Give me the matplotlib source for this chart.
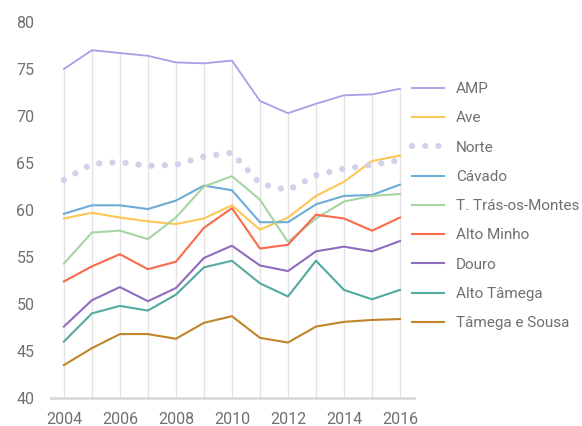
import numpy as np
import matplotlib.pyplot as plt

plt.rcParams['font.family'] = ['Roboto', 'DejaVu Sans']

years = np.arange(2004, 2017)

amp = [75.0, 77.0, 76.7, 76.4, 75.7, 75.6, 75.9, 71.6, 70.3, 71.3, 72.2, 72.3, 72.9]
ave = [59.1, 59.7, 59.2, 58.8, 58.5, 59.1, 60.5, 57.9, 59.2, 61.5, 63.0, 65.2, 65.8]
norte = [63.2, 64.9, 65.1, 64.7, 64.8, 65.7, 66.1, 62.8, 62.1, 63.7, 64.4, 64.8, 65.3]
cavado = [59.6, 60.5, 60.5, 60.1, 61.0, 62.6, 62.1, 58.7, 58.7, 60.6, 61.5, 61.6, 62.7]
tras = [54.3, 57.6, 57.8, 56.9, 59.2, 62.5, 63.6, 61.1, 56.6, 59.1, 60.9, 61.5, 61.7]
minho = [52.4, 54.0, 55.3, 53.7, 54.5, 58.1, 60.2, 55.9, 56.3, 59.5, 59.1, 57.8, 59.2]
douro = [47.6, 50.4, 51.8, 50.3, 51.7, 54.9, 56.2, 54.1, 53.5, 55.6, 56.1, 55.6, 56.7]
alto_tamega = [46.0, 49.0, 49.8, 49.3, 51.0, 53.9, 54.6, 52.2, 50.8, 54.6, 51.5, 50.5, 51.5]
tamega_sousa = [43.5, 45.3, 46.8, 46.8, 46.3, 48.0, 48.7, 46.4, 45.9, 47.6, 48.1, 48.3, 48.4]

fig = plt.figure(figsize=(5.82, 4.26), dpi=100)
ax = fig.add_axes([51/582, 28/426, (414-51)/582, (398-22)/426])

# drop lines from the top series to the axis
ax.vlines(years, 40, amp, color='#e3e3e3', lw=1, zorder=0)

ax.plot(years, amp, color='#a3a0e8', lw=1.3, label='AMP')
ax.plot(years, ave, color='#fec656', lw=1.5, label='Ave')
ax.plot(years, norte, color='#d3d1e9', lw=4.5, dashes=(0.01, 2.1),
        dash_capstyle='round', label='Norte')
ax.plot(years, cavado, color='#6badd6', lw=1.5, label='Cávado')
ax.plot(years, tras, color='#a6d5a3', lw=1.5, label='T. Trás-os-Montes')
ax.plot(years, minho, color='#fa6a4a', lw=1.5, label='Alto Minho')
ax.plot(years, douro, color='#8f6cbd', lw=1.5, label='Douro')
ax.plot(years, alto_tamega, color='#53aa9f', lw=1.5, label='Alto Tâmega')
ax.plot(years, tamega_sousa, color='#c08429', lw=1.5, label='Tâmega e Sousa')

ax.set_xlim(2003.54, 2016.5)
ax.set_ylim(40, 80)
ax.set_xticks(np.arange(2004, 2017, 2))
ax.set_yticks(np.arange(40, 81, 5))

for s in ['top', 'right', 'left']:
    ax.spines[s].set_visible(False)
ax.spines['bottom'].set_color('#d9d9d9')
ax.spines['bottom'].set_linewidth(2)
ax.tick_params(length=0, labelsize=11.5, labelcolor='#707070')
ax.tick_params(axis='y', pad=12)
ax.tick_params(axis='x', pad=10)

leg = ax.legend(loc='upper left', bbox_to_anchor=(406/582, 1 - 76/426),
                bbox_transform=fig.transFigure, frameon=False,
                fontsize=11, handlelength=2.1, handletextpad=0.75,
                labelspacing=1.0, borderaxespad=0)
for t in leg.get_texts():
    t.set_color('#707070')

fig.savefig('out.png', dpi=100)
